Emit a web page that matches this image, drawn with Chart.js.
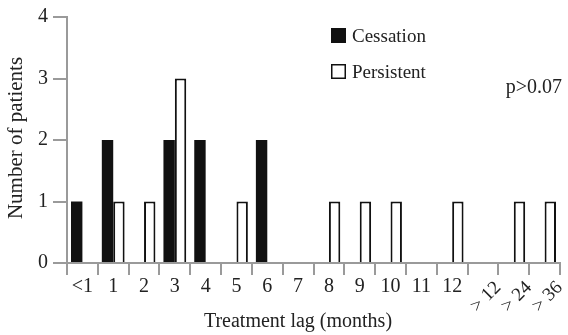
<!DOCTYPE html>
<html>
<head>
<meta charset="utf-8">
<script src="https://cdn.jsdelivr.net/npm/chart.js@4"></script>
<style>
  html, body { margin: 0; padding: 0; background: #fff; }
  #wrap { width: 568px; height: 335px; }
</style>
</head>
<body>
<div id="wrap"><canvas id="myBarChart" width="568" height="335"></canvas></div>
<script>
// Treatment lag categories (months)
const categories = ["<1", "1", "2", "3", "4", "5", "6", "7", "8", "9", "10", "11", "12", "> 12", "> 24", "> 36"];
const cessation = [1, 2, 0, 2, 2, 0, 2, 0, 0, 0, 0, 0, 0, 0, 0, 0];
const persistent = [0, 1, 1, 3, 0, 1, 0, 0, 1, 1, 1, 0, 1, 0, 1, 1];
const yTicks = [0, 1, 2, 3, 4];
const pText = "p>0.07";

const SERIF = "'Liberation Serif', 'Times New Roman', serif";
const AXIS = "#9a9a9a";

// zero counts are just left empty, no bar drawn
const nz = arr => arr.map(v => v === 0 ? null : v);

// draws the rotated "> n" labels, legend, p value and axis titles
const extras = {
    id: "extras",
    afterDraw(chart) {
        const ctx = chart.ctx;
        const x = chart.scales.x;
        ctx.save();
        ctx.fillStyle = "#222";

        // rotated tick labels
        ctx.font = "19px " + SERIF;
        ctx.textAlign = "center";
        ctx.textBaseline = "middle";
        categories.forEach((c, i) => {
            if (!c.startsWith(">")) return;
            ctx.save();
            ctx.translate(x.getPixelForValue(i) + 3, 297);
            ctx.rotate(-Math.PI / 4);
            ctx.fillText(c, 0, 0);
            ctx.restore();
        });

        // legend
        chart.data.datasets.forEach((ds, i) => {
            const top = 28 + i * 36;
            ctx.fillStyle = ds.backgroundColor;
            ctx.fillRect(331, top, 15, 15);
            ctx.strokeStyle = "#111";
            ctx.lineWidth = 1.5;
            ctx.strokeRect(331.75, top + 0.75, 13.5, 13.5);
            ctx.fillStyle = "#222";
            ctx.font = "19px " + SERIF;
            ctx.textAlign = "left";
            ctx.textBaseline = "alphabetic";
            ctx.fillText(ds.label, 352, top + 14);
        });

        // p value
        ctx.font = "20px " + SERIF;
        ctx.textAlign = "right";
        ctx.fillText(pText, 562, 93);

        // axis titles
        ctx.textAlign = "center";
        ctx.fillText("Treatment lag (months)", 298, 327);
        ctx.save();
        ctx.translate(16, 138);
        ctx.rotate(-Math.PI / 2);
        ctx.font = "21px " + SERIF;
        ctx.textBaseline = "middle";
        ctx.fillText("Number of patients", 0, 0);
        ctx.restore();

        ctx.restore();
    }
};

const ctx = document.getElementById("myBarChart").getContext("2d");
new Chart(ctx, {
    type: "bar",
    data: {
        labels: categories,
        datasets: [
            {
                label: "Cessation",
                data: nz(cessation),
                backgroundColor: "#111111",
                borderWidth: 0
            },
            {
                label: "Persistent",
                data: nz(persistent),
                backgroundColor: "#ffffff",
                borderColor: "#111",
                borderWidth: 2
            }
        ]
    },
    options: {
        responsive: false,
        animation: false,
        categoryPercentage: 0.74,
        barPercentage: 1,
        layout: { padding: { top: 13, right: 8, left: 0, bottom: 0 } },
        plugins: {
            legend: { display: false },
            tooltip: { enabled: false }
        },
        scales: {
            x: {
                grid: {
                    offset: true,
                    drawOnChartArea: false,
                    drawTicks: true,
                    tickLength: 12,
                    color: AXIS,
                    lineWidth: 2
                },
                border: { display: true, color: AXIS, width: 2 },
                ticks: {
                    autoSkip: false,
                    maxRotation: 0,
                    minRotation: 0,
                    padding: 0,
                    color: "#222",
                    font: { family: SERIF, size: 20 },
                    callback: (v, i) => categories[i].startsWith(">") ? "" : categories[i]
                },
                afterFit: s => { s.height = 72; }
            },
            y: {
                min: 0,
                max: 4,
                grid: {
                    drawOnChartArea: false,
                    drawTicks: true,
                    tickLength: 14,
                    color: AXIS,
                    lineWidth: 2
                },
                border: { display: true, color: AXIS, width: 2 },
                afterBuildTicks: s => { s.ticks = yTicks.map(v => ({ value: v })); },
                ticks: {
                    padding: 5,
                    color: "#222",
                    font: { family: SERIF, size: 20 }
                },
                afterFit: s => { s.width = 67; }
            }
        }
    },
    plugins: [extras]
});
</script>
</body>
</html>
